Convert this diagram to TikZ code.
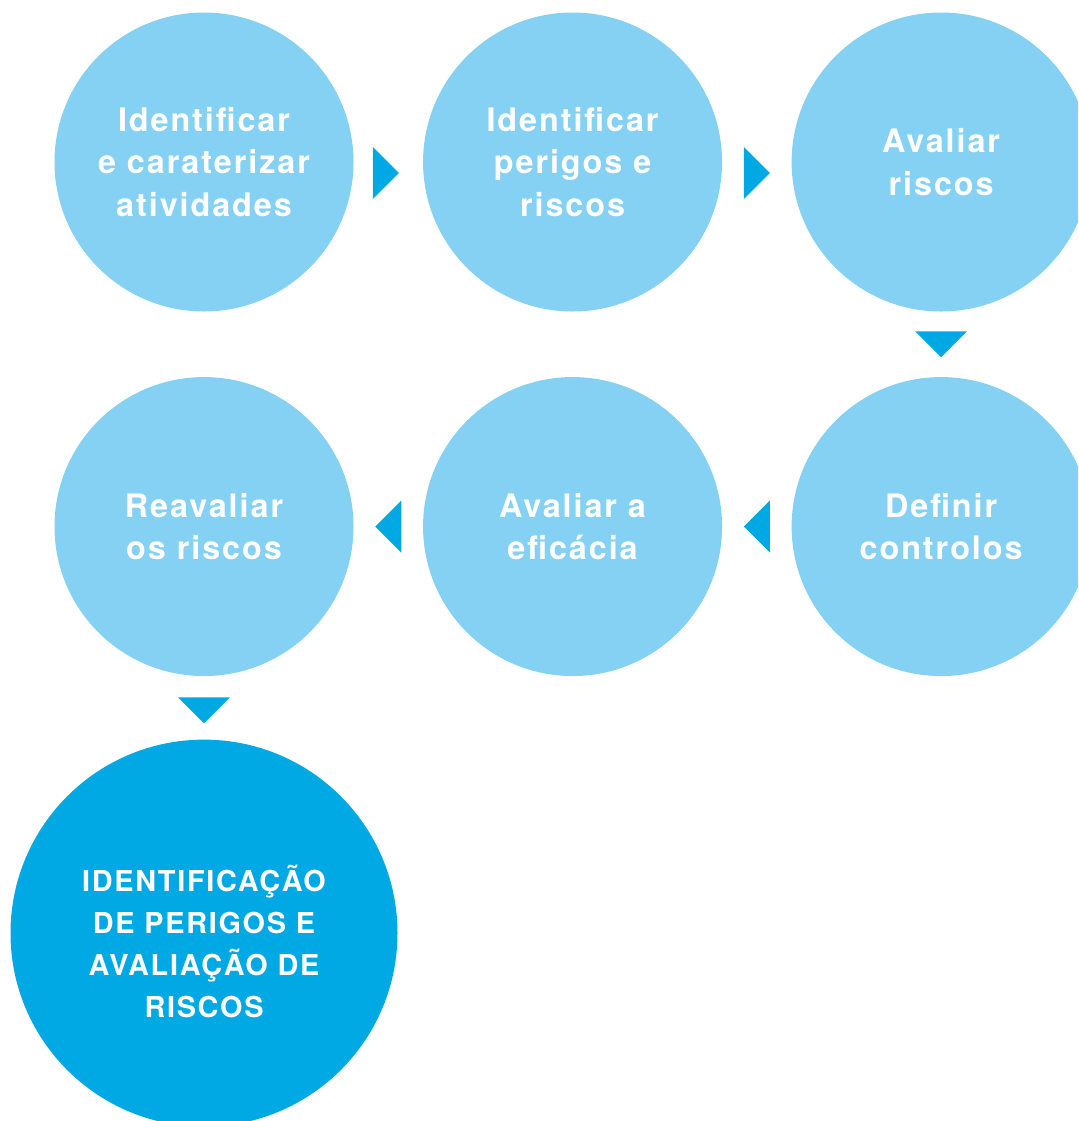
\documentclass[tikz,border=0pt]{standalone}
\usepackage{fontspec}
\setmainfont{TeX Gyre Heros}[LetterSpace=6]
\usetikzlibrary{positioning,calc}

\definecolor{lightblue}{HTML}{85D1F4}
\definecolor{darkblue}{HTML}{00A8E4}

\begin{document}
\begin{tikzpicture}[
    font=\bfseries\fontsize{23}{30.5}\selectfont,
    line join=round,
    stage/.style={
        circle,
        fill=lightblue,
        text=white,
        minimum size=7.475cm,
        inner sep=0pt,
        align=center
    },
    result/.style={
        circle,
        fill=darkblue,
        minimum size=9.675cm,
        inner sep=0pt
    },
    resulttext/.style={
        text=white,
        align=center,
        font=\bfseries\fontsize{20.5}{29.8}\selectfont
    },
    tri/.pic={
        \fill[darkblue] (-0.325,0.65) -- (0.325,0) -- (-0.325,-0.65) -- cycle;
    }
]

\useasboundingbox (0,0) rectangle (26.95,-28.025);
\clip (0,0) rectangle (26.95,-28.025);

% =========================
% Nodes
% =========================
\node[stage] (ident) at (5.1,-4.05) {Identificar\\e caraterizar\\atividades};

\node[stage, right=1.725cm of ident] (perigos) {Identificar\\perigos e\\riscos};

\node[stage, right=1.725cm of perigos] (avaliar) {Avaliar\\riscos};

\node[stage, below=1.625cm of avaliar] (controlos) {Definir\\controlos};

\node[stage, left=1.725cm of controlos] (eficacia) {Avaliar a\\efic\'acia};

\node[stage, left=1.725cm of eficacia] (reavaliar) {Reavaliar\\os riscos};

\node[result, below=1.575cm of reavaliar] (hira) {};
\node[resulttext] (hiratext) at ($(hira)+(0,-0.2)$) {IDENTIFICAÇÃO\\DE PERIGOS E\\AVALIAÇÃO DE\\RISCOS};

% =========================
% Flow markers
% =========================
\pic at ($($(ident.east)!0.5!(perigos.west)$)+(-0.06,-0.275)$) {tri};
\pic at ($($(perigos.east)!0.5!(avaliar.west)$)+(0,-0.275)$) {tri};
\pic[rotate=-90] at ($(avaliar.south)!0.5!(controlos.north)$) {tri};
\pic[rotate=180] at ($(controlos.west)!0.5!(eficacia.east)$) {tri};
\pic[rotate=180] at ($(eficacia.west)!0.5!(reavaliar.east)$) {tri};
\pic[rotate=-90] at ($(reavaliar.south)!0.5!(hira.north)+(0,-0.06)$) {tri};

\end{tikzpicture}
\end{document}
